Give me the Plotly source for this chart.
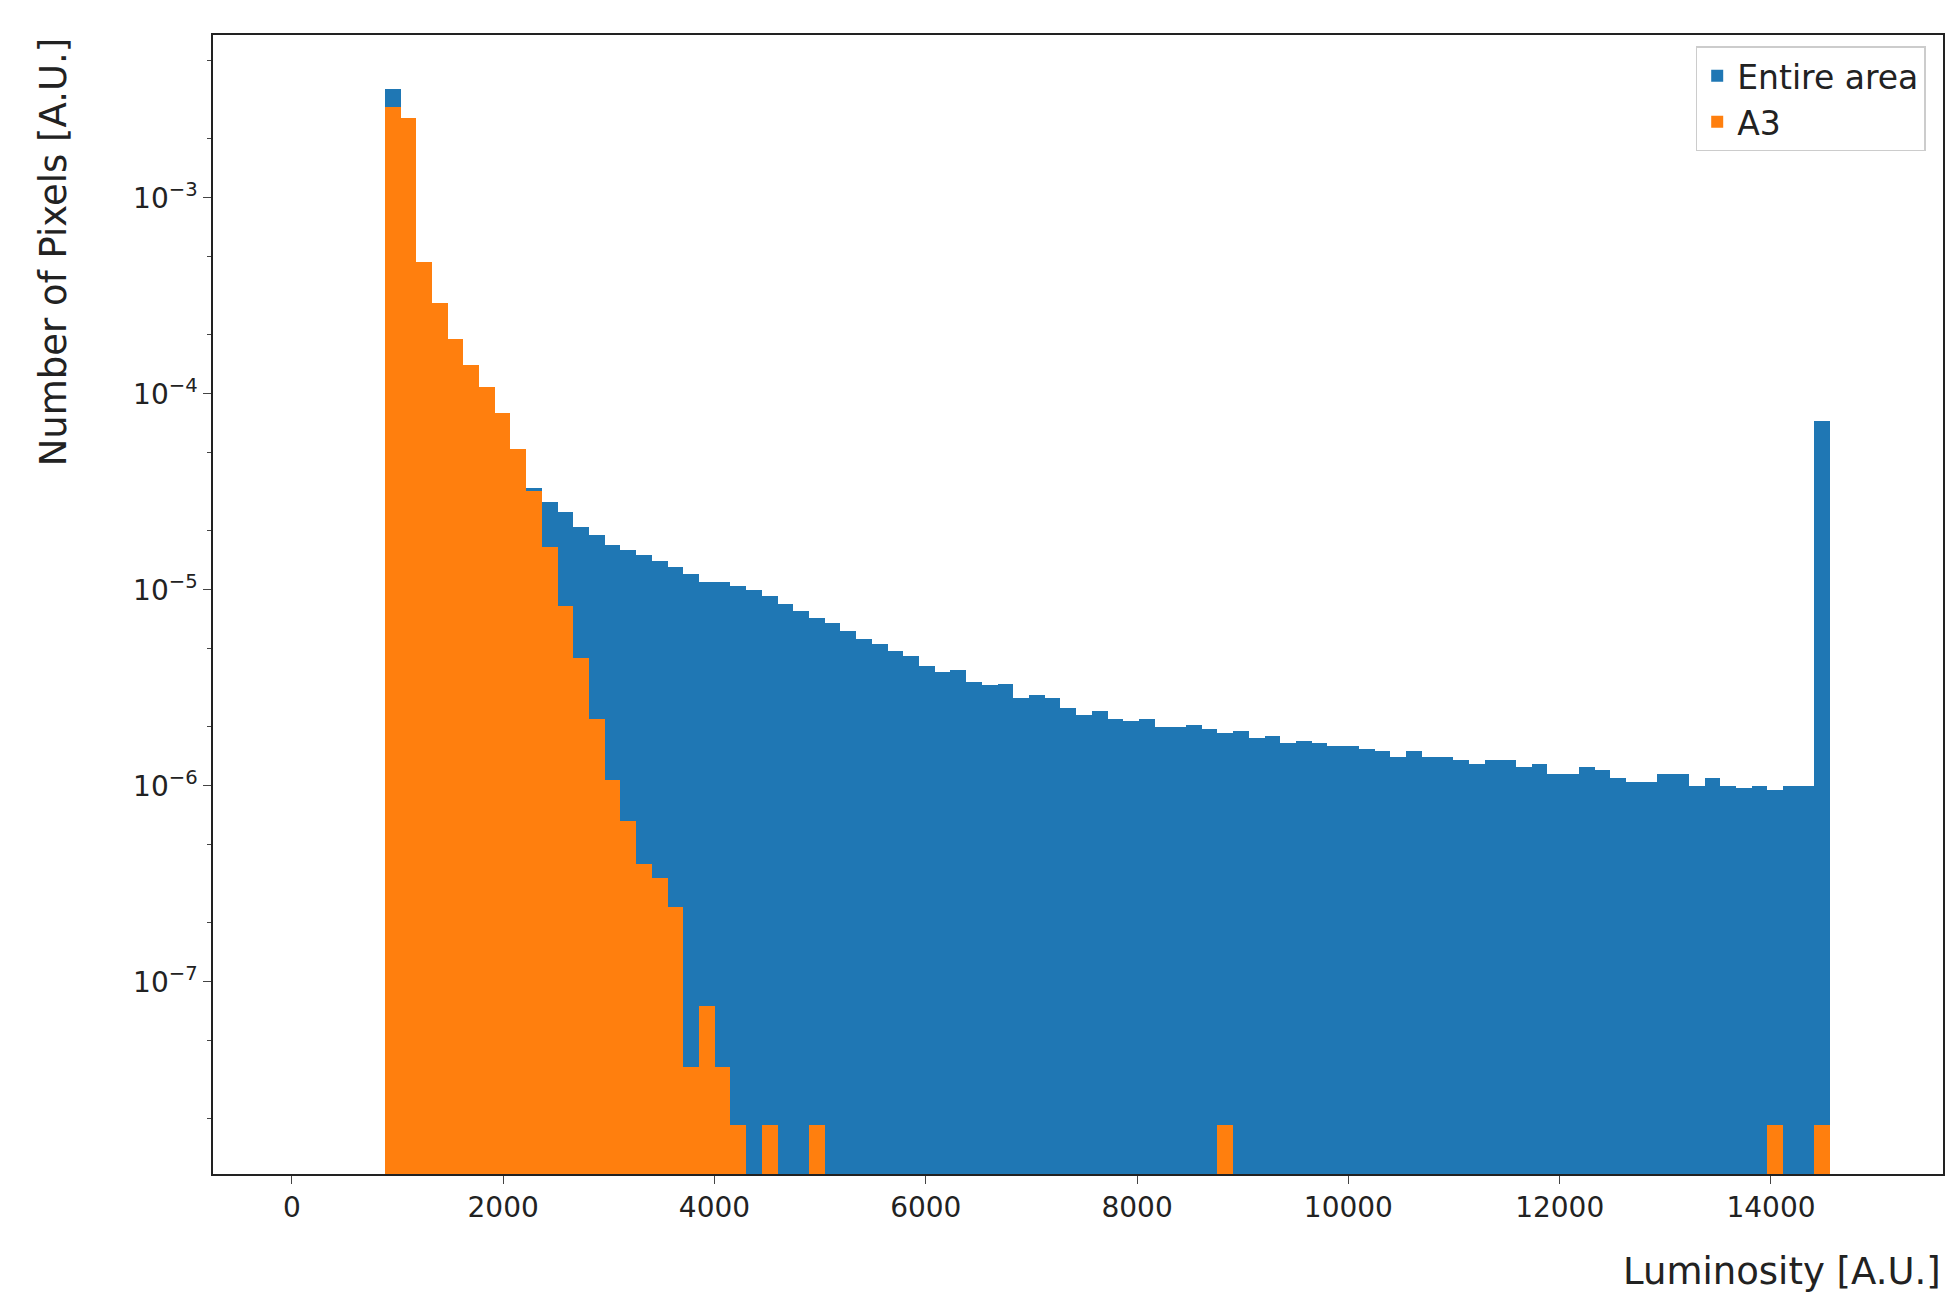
import plotly.graph_objects as go

bin_start = 880.0
bin_width = 148.7
entire_area = [3.6e-3, 2.56e-3, 4.7e-4, 2.9e-4, 1.9e-4, 1.4e-4, 1.08e-4, 8e-5, 5.2e-5, 3.3e-5,
               2.8e-5, 2.5e-5, 2.1e-5, 1.9e-5, 1.7e-5, 1.6e-5, 1.5e-5, 1.4e-5, 1.3e-5, 1.2e-5,
               1.1e-5, 1.1e-5, 1.05e-5, 1.0e-5, 9.3e-6, 8.5e-6, 7.8e-6, 7.2e-6, 6.8e-6, 6.2e-6,
               5.6e-6, 5.3e-6, 4.9e-6, 4.6e-6, 4.1e-6, 3.8e-6, 3.9e-6, 3.4e-6, 3.25e-6, 3.3e-6,
               2.8e-6, 2.9e-6, 2.8e-6, 2.5e-6, 2.3e-6, 2.4e-6, 2.2e-6, 2.15e-6, 2.2e-6, 2.0e-6,
               2.0e-6, 2.05e-6, 1.95e-6, 1.85e-6, 1.9e-6, 1.75e-6, 1.8e-6, 1.65e-6, 1.7e-6, 1.65e-6,
               1.6e-6, 1.6e-6, 1.55e-6, 1.5e-6, 1.4e-6, 1.5e-6, 1.4e-6, 1.4e-6, 1.35e-6, 1.3e-6,
               1.35e-6, 1.35e-6, 1.25e-6, 1.3e-6, 1.15e-6, 1.15e-6, 1.25e-6, 1.2e-6, 1.1e-6, 1.05e-6,
               1.05e-6, 1.15e-6, 1.15e-6, 1.0e-6, 1.1e-6, 1.0e-6, 0.98e-6, 1.0e-6, 0.95e-6, 1.0e-6,
               1.0e-6, 7.3e-5]
one = 1.87e-8
a3 = [2.9e-3, 2.56e-3, 4.7e-4, 2.9e-4, 1.9e-4, 1.4e-4, 1.08e-4, 8e-5, 5.2e-5, 3.2e-5,
      1.65e-5, 8.3e-6, 4.5e-6, 2.2e-6, 1.07e-6, 6.6e-7, 4e-7, 3.4e-7, 2.4e-7, 3.7e-8,
      7.5e-8, 3.7e-8, one, None, one, None, None, one] + [None] * 25 + [one] + [None] * 34 + [one, None, None, one]

centers = [bin_start + bin_width * (i + 0.5) for i in range(len(entire_area))]

fig = go.Figure()
fig.add_trace(go.Bar(x=centers, y=entire_area, width=bin_width, name="Entire area",
                     marker=dict(color="#1f77b4", line=dict(width=0))))
fig.add_trace(go.Bar(x=centers[:len(a3)], y=a3, width=bin_width, name="A3",
                     marker=dict(color="#ff7f0e", line=dict(width=0))))

font = dict(family="DejaVu Sans", size=28, color="#222")
fig.update_layout(
    barmode="overlay", width=1955, height=1315, plot_bgcolor="white", paper_bgcolor="white",
    margin=dict(l=205, r=20, t=27, b=149), font=font, bargap=0,
    legend=dict(x=0.99, y=0.99, xanchor="right", yanchor="top", bordercolor="#ccc",
                borderwidth=1.5, font=dict(size=33), bgcolor="rgba(255,255,255,0.8)",
                itemsizing="constant"),
    annotations=[
        dict(text="Luminosity [A.U.]", xref="paper", yref="paper", x=1.0, y=-0.065,
             xanchor="right", yanchor="top", showarrow=False, font=dict(size=37)),
        dict(text="Number of Pixels [A.U.]", xref="paper", yref="paper", x=-0.092, y=1.0,
             xanchor="center", yanchor="top", textangle=-90, showarrow=False, font=dict(size=37)),
    ],
)
fig.update_xaxes(range=[-746, 15628], tickvals=list(range(0, 15000, 2000)), tickformat="d", ticks="outside",
                 ticklen=8, showline=True, mirror=True, linecolor="#222", linewidth=1.5, showgrid=False,
                 zeroline=False)
fig.update_yaxes(type="log", range=[-7.98, -2.17], tickvals=[1e-7, 1e-6, 1e-5, 1e-4, 1e-3],
                 ticktext=["10<sup>−7</sup>", "10<sup>−6</sup>", "10<sup>−5</sup>", "10<sup>−4</sup>", "10<sup>−3</sup>"],
                 ticks="outside", ticklen=8, showline=True, mirror=True, linecolor="#222", linewidth=1.5,
                 showgrid=False, minor=dict(ticks="outside", ticklen=4, showgrid=False),
                 zeroline=False)
fig.write_html("out.html")
